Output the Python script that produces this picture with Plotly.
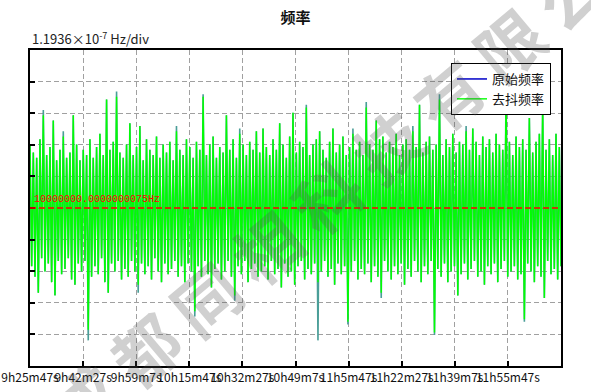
import numpy as np
import plotly.graph_objects as go

# ---- data (frequency offsets from 10000000.0000000075 Hz, in units of 1e-7 Hz) ----
center_label = "10000000.0000000075Hz"
div_size = 1.1936  # 1e-7 Hz per division
tick_text = ["9h25m47s", "9h42m27s", "9h59m7s", "10h15m47s", "10h32m27s",
             "10h49m7s", "11h5m47s", "11h22m27s", "11h39m7s", "11h55m47s"]
tick_seconds = [0, 1000, 2000, 3000, 4000, 5000, 6000, 7000, 8000, 9000]
span_seconds = 10000

green_hi = [2.4, 2.1, 1.9, 2.6, 3.5, 2.0, 2.3, 3.3, 1.8, 2.2,
            2.7, 1.9, 2.1, 3.5, 2.4, 1.8, 2.2, 2.0, 2.6, 1.9,
            2.3, 2.8, 2.0, 4.1, 2.2, 2.5, 4.2, 2.1, 1.9, 2.4,
            3.2, 2.0, 2.3, 3.1, 1.8, 2.6, 2.2, 2.0, 2.7, 1.9,
            2.4, 2.1, 2.5, 1.8, 2.9, 2.2, 2.0, 2.6, 2.3, 1.9,
            2.5, 2.2, 4.2, 2.0, 2.4, 2.7, 1.9, 2.3, 2.1, 3.5,
            2.2, 2.6, 1.9, 2.8, 2.4, 2.0, 2.5, 2.2, 2.9, 2.1,
            3.0, 2.3, 2.0, 2.6, 2.2, 3.2, 2.4, 1.9, 2.7, 3.6,
            2.1, 2.5, 2.3, 3.8, 2.0, 2.4, 2.6, 2.9, 2.2, 1.9,
            2.5, 3.0, 2.1, 2.4, 2.7, 2.0, 2.3, 2.8, 2.2, 2.5,
            2.0, 3.8, 2.4, 2.2, 3.3, 2.6, 2.7, 2.1, 2.5, 2.3,
            2.8, 2.0, 2.4, 2.6, 2.2, 2.9, 2.3, 3.9, 2.1, 2.5,
            2.7, 2.2, 2.4, 4.1, 2.0, 2.6, 2.3, 2.8, 2.1, 2.5,
            2.4, 2.9, 2.2, 3.0, 2.5, 2.0, 2.7, 2.3, 2.6, 2.1,
            2.8, 2.4, 2.2, 4.2, 2.5, 2.0, 2.7, 2.3, 2.6, 2.2,
            3.4, 2.1, 2.5, 2.8, 3.9, 2.2, 2.6, 2.0, 2.8, 2.3]
green_lo = [-2.2, -2.6, -3.2, -1.9, -2.4, -2.1, -2.8, -3.3, -2.0, -2.5,
            -2.3, -1.9, -2.7, -2.9, -2.1, -2.4, -2.0, -4.6, -2.6, -2.2,
            -2.5, -1.9, -2.8, -3.2, -2.1, -2.4, -2.0, -2.7, -2.3, -2.6,
            -2.0, -2.4, -2.9, -2.1, -2.5, -2.2, -2.7, -1.9, -2.4, -2.8,
            -2.1, -2.5, -2.3, -2.0, -2.6, -2.2, -2.8, -2.1, -2.4, -3.9,
            -2.2, -2.6, -2.0, -2.5, -3.0, -2.3, -2.1, -2.7, -2.4, -2.0,
            -2.6, -3.3, -2.2, -2.5, -2.0, -2.8, -2.3, -2.1, -2.6, -2.4,
            -2.2, -2.7, -2.0, -2.5, -2.3, -3.0, -2.1, -2.6, -2.4, -2.9,
            -2.2, -2.0, -2.7, -2.3, -2.5, -2.1, -2.8, -2.4, -2.0, -2.6,
            -2.3, -2.9, -2.1, -2.5, -2.2, -4.3, -2.4, -2.0, -2.7, -2.3,
            -2.5, -2.1, -2.8, -2.2, -2.6, -3.2, -2.0, -2.4, -2.7, -2.2,
            -2.5, -2.1, -2.9, -2.3, -2.6, -2.0, -2.4, -2.8, -2.2, -2.5,
            -2.0, -4.7, -2.3, -2.6, -2.1, -2.8, -2.4, -2.2, -3.3, -2.5,
            -2.1, -2.7, -2.3, -2.0, -2.6, -2.4, -2.9, -2.2, -2.5, -2.1,
            -2.8, -2.3, -2.0, -2.6, -2.4, -2.2, -2.7, -2.5, -4.2, -2.1,
            -2.4, -2.8, -2.2, -2.6, -3.4, -2.0, -2.5, -2.3, -2.7, -2.2]

orig_hi = [2.4, 2.1, 1.9, 2.6, 3.7, 2.0, 2.3, 3.3, 1.8, 2.2,
           2.9, 1.9, 2.1, 3.5, 2.4, 1.8, 2.2, 2.0, 2.6, 1.9,
           2.3, 2.8, 2.0, 4.1, 2.2, 2.5, 4.4, 2.1, 1.9, 2.4,
           3.2, 2.0, 2.3, 3.1, 1.8, 2.6, 2.2, 2.0, 2.7, 1.9,
           2.4, 2.1, 2.5, 1.8, 3.1, 2.2, 2.0, 2.6, 2.3, 1.9,
           2.5, 2.2, 4.3, 2.0, 2.4, 2.7, 1.9, 2.3, 2.1, 3.5,
           2.2, 2.6, 1.9, 3.0, 2.4, 2.0, 2.5, 2.2, 2.9, 2.1,
           3.0, 2.3, 2.0, 2.6, 2.2, 3.2, 2.4, 1.9, 2.7, 3.6,
           2.1, 2.5, 2.3, 3.9, 2.0, 2.4, 2.6, 2.9, 2.2, 1.9,
           2.5, 3.0, 2.1, 2.4, 2.7, 2.0, 2.3, 3.0, 2.2, 2.5,
           2.0, 4.0, 2.4, 2.2, 3.3, 2.6, 2.7, 2.1, 2.5, 2.3,
           2.8, 2.0, 2.4, 2.6, 2.2, 3.1, 2.3, 3.9, 2.1, 2.5,
           2.7, 2.2, 2.4, 4.3, 2.0, 2.6, 2.3, 2.8, 2.1, 2.5,
           2.4, 3.1, 2.2, 3.0, 2.5, 2.0, 2.7, 2.3, 2.6, 2.1,
           2.8, 2.4, 2.2, 4.4, 2.5, 2.0, 2.7, 2.3, 2.6, 2.2,
           3.4, 2.1, 2.5, 2.8, 3.9, 2.2, 2.6, 2.0, 2.8, 2.3]
orig_lo = [-2.2, -2.6, -3.2, -1.9, -2.4, -2.1, -2.8, -3.3, -2.0, -2.5,
           -2.3, -1.9, -2.7, -2.9, -2.1, -2.4, -2.0, -5.0, -2.6, -2.2,
           -2.5, -1.9, -2.8, -3.2, -2.1, -2.4, -2.0, -2.7, -2.3, -2.6,
           -2.0, -2.4, -3.2, -2.1, -2.5, -2.2, -2.7, -1.9, -2.4, -2.8,
           -2.1, -2.5, -2.3, -2.0, -2.6, -2.2, -2.8, -2.1, -2.4, -4.1,
           -2.2, -2.6, -2.0, -2.5, -3.0, -2.3, -2.1, -2.7, -2.4, -2.0,
           -2.6, -3.5, -2.2, -2.5, -2.0, -2.8, -2.3, -2.1, -2.6, -2.4,
           -2.2, -2.7, -2.0, -2.5, -2.3, -3.0, -2.1, -2.6, -2.4, -2.9,
           -2.2, -2.0, -2.7, -2.3, -2.5, -2.1, -5.0, -2.4, -2.0, -2.6,
           -2.3, -2.9, -2.1, -2.5, -2.2, -4.4, -2.4, -2.0, -2.7, -2.3,
           -2.5, -2.1, -2.8, -2.2, -2.6, -3.4, -2.0, -2.4, -2.7, -2.2,
           -2.5, -2.1, -2.9, -2.3, -2.6, -2.0, -2.4, -2.8, -2.2, -2.5,
           -2.0, -4.8, -2.3, -2.6, -2.1, -2.8, -2.4, -2.2, -3.3, -2.5,
           -2.1, -2.7, -2.3, -2.0, -2.6, -2.4, -2.9, -2.2, -2.5, -2.1,
           -2.8, -2.3, -2.0, -2.6, -2.4, -2.2, -2.7, -2.5, -4.3, -2.1,
           -2.4, -2.8, -2.2, -2.6, -3.4, -2.0, -2.5, -2.3, -2.7, -2.2]


def interleave(hi, lo):
    out = []
    for a, b in zip(hi, lo):
        out.append(a)
        out.append(b)
    return out


green_y = interleave(green_hi, green_lo)
orig_y = interleave(orig_hi, orig_lo)
t = np.linspace(0, span_seconds, len(green_y))

PL, PR, PT, PB = 30, 30, 50, 26
W, H = 591, 392
pw, ph = W - PL - PR, H - PT - PB

fig = go.Figure()
fig.add_trace(go.Scatter(x=t, y=orig_y, mode="lines", showlegend=False,
                         line=dict(color="#4a9e98", width=1.6), hoverinfo="skip"))
fig.add_trace(go.Scatter(x=[None], y=[None], mode="lines", name="原始频率",
                         line=dict(color="#0000c8", width=1.5)))
fig.add_trace(go.Scatter(x=t, y=green_y, mode="lines", name="去抖频率",
                         line=dict(color="#00ff00", width=1.4)))

axis_common = dict(showline=True, linecolor="black", linewidth=2, mirror=True,
                   ticks="inside", ticklen=5, tickwidth=1.5, tickcolor="black",
                   showgrid=True, gridcolor="#a0a0a0", gridwidth=1, griddash="5px,3px",
                   zeroline=False, automargin=False)

fig.update_xaxes(range=[0, span_seconds], tickmode="array", tickvals=tick_seconds,
                 ticktext=tick_text, tickangle=0,
                 tickfont=dict(size=12, color="#111", family="Noto Sans CJK SC"),
                 **axis_common)
fig.update_yaxes(range=[-5 * div_size, 5 * div_size], tick0=0, dtick=div_size,
                 showticklabels=False, **axis_common)

fig.add_shape(type="line", xref="paper", yref="y", x0=0, x1=1, y0=0, y1=0,
              line=dict(color="#ff0000", width=1.5, dash="6px,3px"))

fig.add_annotation(xref="paper", yref="y", x=0, y=0, xanchor="left", yanchor="bottom",
                   xshift=2, yshift=1, showarrow=False, text=center_label,
                   font=dict(family="Liberation Mono", size=10, color="#ff0000"))

fig.add_annotation(xref="paper", yref="paper", x=0, y=1, xanchor="left", yanchor="bottom",
                   xshift=0, yshift=0, showarrow=False,
                   text="1.1936×10<sup>-7</sup> Hz/div",
                   font=dict(family="Noto Sans CJK SC", size=13, color="#222"))

# watermark
wx, wy = 356, 170
fig.add_annotation(xref="paper", yref="paper", x=(wx - PL) / pw, y=(H - PB - wy) / ph,
                   xanchor="center", yanchor="middle", showarrow=False,
                   text="<b>" + "\u2009".join("成都同相科技有限公司") + "</b>", textangle=-40,
                   font=dict(family="Noto Sans CJK SC", size=66, color="rgba(80,80,80,0.27)"))

fig.update_layout(
    width=W, height=H, margin=dict(l=PL, r=PR, t=PT, b=PB),
    paper_bgcolor="white", plot_bgcolor="white",
    title=dict(text="<b>频率</b>", x=0.5, xanchor="center", y=1 - 18 / H, yanchor="middle",
               font=dict(family="Noto Sans CJK SC", size=15, color="#111")),
    legend=dict(x=(551 - PL) / pw, y=(H - PB - 63) / ph, xanchor="right", yanchor="top",
                bgcolor="white", bordercolor="black", borderwidth=1,
                font=dict(family="Noto Sans CJK SC", size=13, color="#111"),
                itemwidth=30),
    showlegend=True,
)

fig.write_html("out.html")
